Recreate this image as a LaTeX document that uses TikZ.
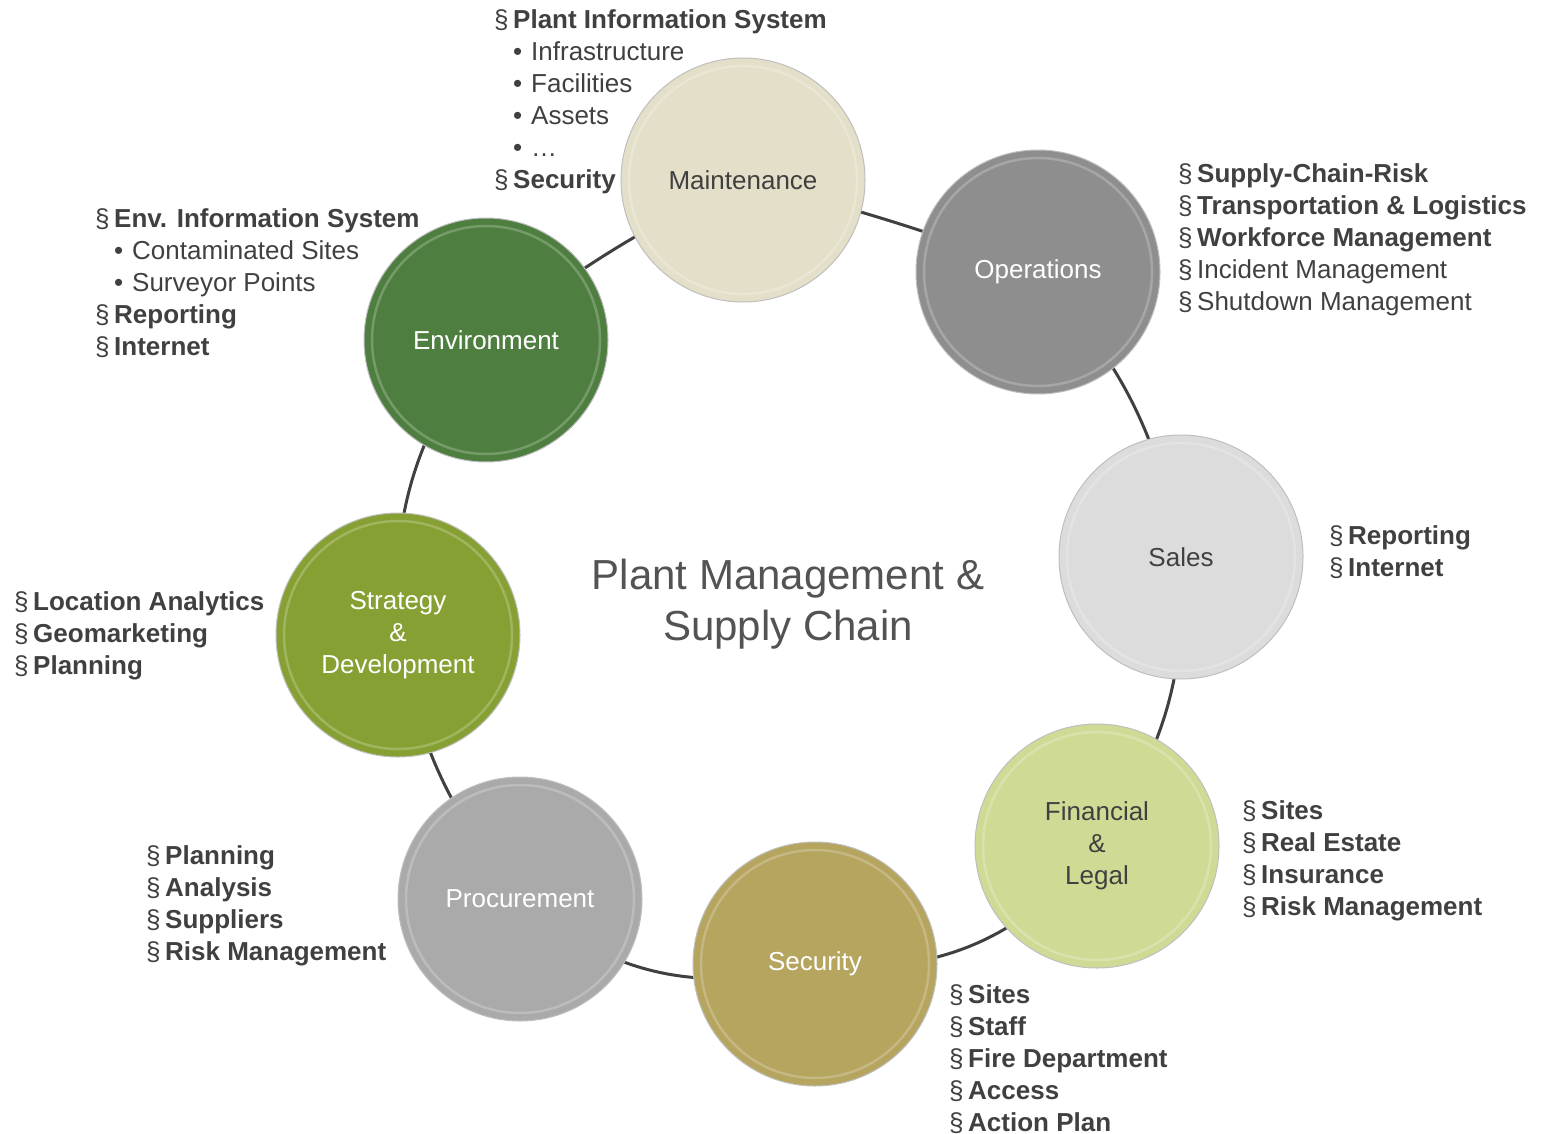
\documentclass[tikz,border=0pt]{standalone}
\usepackage{fontspec}
\setmainfont{Liberation Sans}
\usetikzlibrary{positioning}
\pgfdeclarelayer{back}
\pgfsetlayers{back,main}
\definecolor{txtgray}{HTML}{404040}
\definecolor{maintcol}{HTML}{E3DFC9}
\definecolor{opscol}{HTML}{8E8E8E}
\definecolor{salescol}{HTML}{DCDCDC}
\definecolor{fincol}{HTML}{CFDB95}
\definecolor{seccol}{HTML}{B5A55F}
\definecolor{proccol}{HTML}{AAAAAA}
\definecolor{stratcol}{HTML}{87A033}
\definecolor{envcol}{HTML}{4F7F40}
\tikzset{
  ball/.style={
    circle,
    minimum size=244pt,
    inner sep=0pt,
    fill=#1,
    draw=black!25,
    line width=1pt,
    align=center,
    font=\fontsize{26}{32}\selectfont,
    path picture={\draw[white,opacity=.22,line width=2.5pt] (path picture bounding box.center) circle (114pt);}
  },
  ring/.style={draw=txtgray, line width=3pt},
  items/.style={anchor=base west, inner sep=0pt, align=left, text=txtgray,
    font=\fontsize{26}{32}\selectfont}
}
\newcommand{\secb}[1]{\makebox[19pt][l]{\S}\textbf{#1}}
\newcommand{\secn}[1]{\makebox[19pt][l]{\S}#1}
\newcommand{\bul}[1]{\hspace{19pt}\makebox[18pt][l]{\textbullet}#1}

\begin{document}
\begin{tikzpicture}[x=1pt,y=-1pt]
  \useasboundingbox (0,0) rectangle (1547,1134);

  % the eight topics
  \node (maint) [ball=maintcol, text=txtgray] at (743,180) {Maintenance};
  \node (ops) [ball=opscol, text=white] at (1038,272) {Operations};
  \node (sales) [ball=salescol, text=txtgray] at (1181,557) {Sales};
  \node (fin) [ball=fincol, text=txtgray] at (1097,846) {Financial\\\&\\Legal};
  \node (sec) [ball=seccol, text=white] at (815,964) {Security};
  \node (proc) [ball=proccol, text=white] at (520,899) {Procurement};
  \node (strat) [ball=stratcol, text=white] at (398,635) {Strategy\\\&\\Development};
  \node (env) [ball=envcol, text=white] at (486,340) {Environment};

  \begin{pgfonlayer}{back}
    \draw[ring] (maint.center) to[bend left=3] (ops.center)
      to[bend left=16] (sales.center) to[bend left=19] (fin.center)
      to[bend left=29] (sec.center) to[bend left=28] (proc.center)
      to[bend left=14] (strat.center) to[bend left=20] (env.center)
      to[bend left=6] (maint.center);
  \end{pgfonlayer}

  \node (title) [align=center, text=txtgray!90, font=\fontsize{42}{51}\selectfont] at (788,604)
    {Plant Management \&\\Supply Chain};

  % lists (anchored at the baseline of their last line)
  \node (maint_list) [items] at (494,189) {\secb{Plant Information System}\\
    \bul{Infrastructure}\\ \bul{Facilities}\\ \bul{Assets}\\ \bul{\dots}\\
    \secb{Security}};
  \node (ops_list) [items] at (1178,310) {\secb{Supply-Chain-Risk}\\
    \secb{Transportation \& Logistics}\\ \secb{Workforce Management}\\
    \secn{Incident Management}\\ \secn{Shutdown Management}};
  \node (env_list) [items] at (95,355) {\secb{Env. Information System}\\
    \bul{Contaminated Sites}\\ \bul{Surveyor Points}\\
    \secb{Reporting}\\ \secb{Internet}};
  \node (sales_list) [items] at (1329,576) {\secb{Reporting}\\ \secb{Internet}};
  \node (strat_list) [items] at (14,674) {\secb{Location Analytics}\\
    \secb{Geomarketing}\\ \secb{Planning}};
  \node (fin_list) [items] at (1242,915) {\secb{Sites}\\ \secb{Real Estate}\\
    \secb{Insurance}\\ \secb{Risk Management}};
  \node (proc_list) [items] at (146,960) {\secb{Planning}\\ \secb{Analysis}\\
    \secb{Suppliers}\\ \secb{Risk Management}};
  \node (sec_list) [items] at (949,1131) {\secb{Sites}\\ \secb{Staff}\\
    \secb{Fire Department}\\ \secb{Access}\\ \secb{Action Plan}};
\end{tikzpicture}
\end{document}
